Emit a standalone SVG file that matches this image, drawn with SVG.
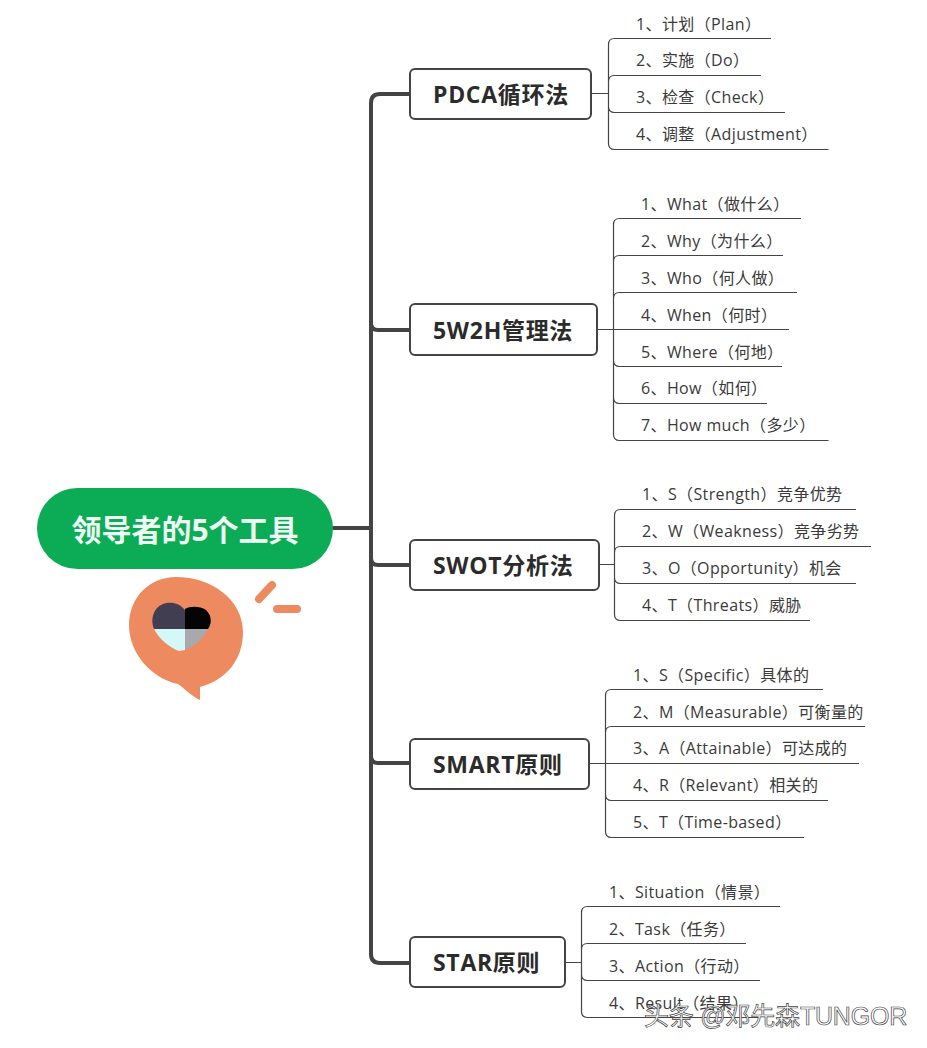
<svg xmlns="http://www.w3.org/2000/svg" width="927" height="1048" viewBox="0 0 927 1048">
<style>
text{font-family:"Open Sans","Noto Sans CJK SC",sans-serif}
.b{fill:#fff;stroke:#444;stroke-width:2}
.bt{font-size:23px;font-weight:700;fill:#2b2b2b;letter-spacing:.7px}
.t{font-size:16px;fill:#3a3a3a;letter-spacing:.38px}
.s{fill:none;stroke:#444;stroke-width:4;stroke-linecap:round}
.l{fill:none;stroke:#444;stroke-width:1.2}
.o{fill:none;stroke:#ee8a60;stroke-width:8;stroke-linecap:round}
</style>
<rect width="927" height="1048" fill="#fff"/>
<g id="connectors">
<path class="s" d="M333 528H371M409 94H380Q371 94 371 103V954Q371 963 380 963H409M409 330H378Q371 330 371 323M409 565H378Q371 565 371 558M409 763H378Q371 763 371 756"/>
<path class="l" d="M592 93.500H608.500M614.500 38.500Q608.500 38.500 608.500 44.500V143.500Q608.500 149.500 614.500 149.500H828.500M614.500 38.500H771M614.500 75.500Q608.500 75.500 608.500 81.500M761 75.500H614.500M785 112.500H614.500Q608.500 112.500 608.500 106.500"/>
<path class="l" d="M598 329.500H613.500M619.500 218.500Q613.500 218.500 613.500 224.500V434.500Q613.500 440.500 619.500 440.500H828.500M619.500 218.500H801M783 255.500H619.500Q613.500 255.500 613.500 261.500M797 292.500H619.500Q613.500 292.500 613.500 298.500M789 329.500H613.500M782 366.500H619.500Q613.500 366.500 613.500 360.500M767 403.500H619.500Q613.500 403.500 613.500 397.500"/>
<path class="l" d="M600 564.500H614.500M620.500 509.500Q614.500 509.500 614.500 515.500V614.500Q614.500 620.500 620.500 620.500H810M620.500 509.500H856M871 546.500H620.500Q614.500 546.500 614.500 552.500M856 583.500H620.500Q614.500 583.500 614.500 577.500"/>
<path class="l" d="M590 763.500H605.500M611.500 689.500Q605.500 689.500 605.500 695.500V831.500Q605.500 837.500 611.500 837.500H804M611.500 689.500H823M865 726.500H611.500Q605.500 726.500 605.500 732.500M859 763.500H605.500M828 800.500H611.500Q605.500 800.500 605.500 794.500"/>
<path class="l" d="M566 962.500H581.500M587.500 906.500Q581.500 906.500 581.500 912.500V1011.500Q581.500 1017.500 587.500 1017.500H760M587.500 906.500H780M746 943.500H587.500Q581.500 943.500 581.500 949.500M760 980.500H587.500Q581.500 980.500 581.500 974.500"/>
</g>
<g id="root">
<rect x="37" y="488" width="296" height="81" rx="40.500" fill="#0cab56"/>
<text x="185" y="541" text-anchor="middle" font-size="30" font-weight="700" fill="#eefcf4">领导者的5个工具</text>
</g>
<g id="bubble">
<path d="M176 577C150 577 129 597 129 625C129 652 150 678 178 684C186 690 193 697 200 700L200 687C226 680 243 660 243 632C243 600 212 577 176 577Z" fill="#ee8a60"/>
<path class="o" d="M259 599L272 585M277 609H297"/>
<path d="M185 610C180 603 170 601 163 604C153 608 150 620 154 629H185Z" fill="#413e52"/>
<path d="M185 609C190 606 200 606 206 610C213 617 211 625 208 629H185Z" fill="#040306"/>
<path d="M154 629H185V650L179 651C170 648 160 640 154 629Z" fill="#d3f8f6"/>
<path d="M185 629H208C204 638 195 646 185 650Z" fill="#a9a9ad"/>
</g>
<g id="n1">
<rect class="b" x="410" y="69" width="181" height="50" rx="5"/>
<text class="bt" x="433" y="103">PDCA循环法</text>
<text class="t" x="636" y="30">1、计划（Plan）</text>
<text class="t" x="636" y="66">2、实施（Do）</text>
<text class="t" x="636" y="103">3、检查（Check）</text>
<text class="t" x="636" y="140">4、调整（Adjustment）</text>
</g>
<g id="n2">
<rect class="b" x="410" y="304" width="187" height="51" rx="5"/>
<text class="bt" x="433" y="339">5W2H管理法</text>
<text class="t" x="641" y="210">1、What（做什么）</text>
<text class="t" x="641" y="247">2、Why（为什么）</text>
<text class="t" x="641" y="284">3、Who（何人做）</text>
<text class="t" x="641" y="321">4、When（何时）</text>
<text class="t" x="641" y="358">5、Where（何地）</text>
<text class="t" x="641" y="394">6、How（如何）</text>
<text class="t" x="641" y="431">7、How much（多少）</text>
</g>
<g id="n3">
<rect class="b" x="410" y="540" width="189" height="50" rx="5"/>
<text class="bt" x="433" y="574">SWOT分析法</text>
<text class="t" x="642" y="500">1、S（Strength）竞争优势</text>
<text class="t" x="642" y="537">2、W（Weakness）竞争劣势</text>
<text class="t" x="642" y="574">3、O（Opportunity）机会</text>
<text class="t" x="642" y="611">4、T（Threats）威胁</text>
</g>
<g id="n4">
<rect class="b" x="410" y="739" width="179" height="50" rx="5"/>
<text class="bt" x="433" y="773">SMART原则</text>
<text class="t" x="633" y="681">1、S（Specific）具体的</text>
<text class="t" x="633" y="718">2、M（Measurable）可衡量的</text>
<text class="t" x="633" y="754">3、A（Attainable）可达成的</text>
<text class="t" x="633" y="791">4、R（Relevant）相关的</text>
<text class="t" x="633" y="828">5、T（Time-based）</text>
</g>
<g id="n5">
<rect class="b" x="410" y="937" width="155" height="50" rx="5"/>
<text class="bt" x="433" y="971">STAR原则</text>
<text class="t" x="609" y="898">1、Situation（情景）</text>
<text class="t" x="609" y="935">2、Task（任务）</text>
<text class="t" x="609" y="972">3、Action（行动）</text>
<text class="t" x="609" y="1009">4、Result（结果）</text>
</g>
<text x="644" y="1025" font-size="25" letter-spacing="-.2" fill="#fff" stroke="#444" stroke-width="0.7" style="font-family:'Liberation Sans','Noto Sans CJK SC',sans-serif">头条 @邓先森TUNGOR</text>
</svg>
